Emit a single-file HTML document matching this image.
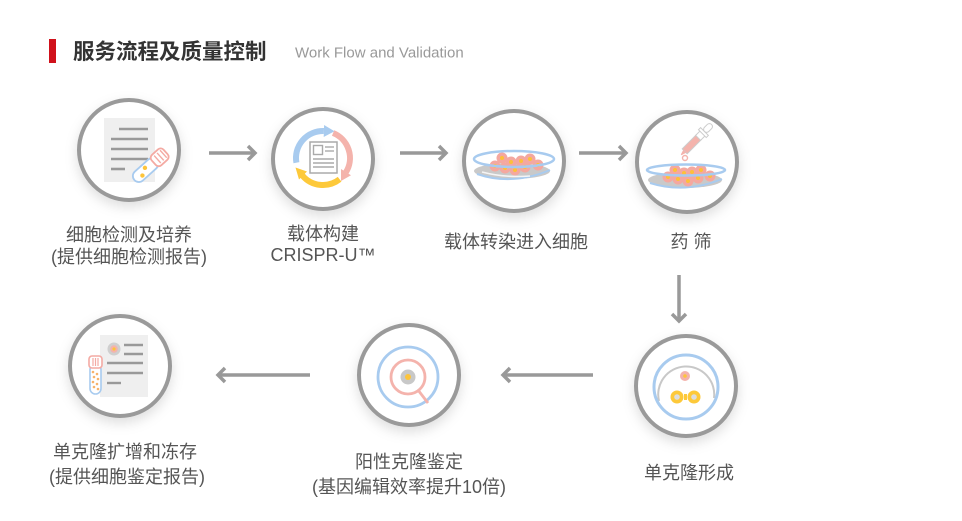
<!DOCTYPE html>
<html><head><meta charset="utf-8"><style>
html,body{margin:0;padding:0;background:#fff;}
svg{display:block;}
text{font-family:"Liberation Sans","Noto Sans CJK SC",sans-serif;}
.lb{font-size:18px;fill:#555;text-anchor:middle;dominant-baseline:central;}
</style></head><body>
<svg width="962" height="521" viewBox="0 0 962 521" xmlns="http://www.w3.org/2000/svg">
<defs>
<filter id="sh" x="-30%" y="-30%" width="160%" height="170%">
<feDropShadow dx="0" dy="5" stdDeviation="6" flood-color="#000" flood-opacity="0.13"/>
</filter>
</defs>
<!-- title -->
<rect x="49" y="39" width="7" height="24" fill="#d0111b"/>
<text x="73" y="52" font-size="21.5" font-weight="bold" fill="#333" dominant-baseline="central">服务流程及质量控制</text>
<text x="295" y="53" font-size="15" fill="#999" dominant-baseline="central">Work Flow and Validation</text>

<!-- circles -->
<g fill="#fff" stroke="#9a9a9a" stroke-width="4" filter="url(#sh)">
<circle cx="129" cy="150" r="50"/>
<circle cx="323" cy="159" r="50"/>
<circle cx="514" cy="161" r="50"/>
<circle cx="687" cy="162" r="50"/>
<circle cx="686" cy="386" r="50"/>
<circle cx="409" cy="375" r="50"/>
<circle cx="120" cy="366" r="50"/>
</g>

<!-- arrows -->
<g stroke="#999" stroke-width="3.5" fill="none" stroke-linecap="butt">
<line x1="209" y1="153" x2="255" y2="153"/><polyline points="248,146 255,153 248,160"/>
<line x1="400" y1="153" x2="446" y2="153"/><polyline points="439,146 446,153 439,160"/>
<line x1="579" y1="153" x2="626" y2="153"/><polyline points="619,146 626,153 619,160"/>
<line x1="679" y1="275" x2="679" y2="321"/><polyline points="672,314 679,321 686,314"/>
<line x1="503" y1="375" x2="593" y2="375"/><polyline points="510,368 503,375 510,382"/>
<line x1="218" y1="375" x2="310" y2="375"/><polyline points="225,368 218,375 225,382"/>
</g>

<!-- icon 1 -->
<rect x="104" y="118" width="51" height="64" fill="#efefef"/>
<g stroke="#999" stroke-width="2.6">
<line x1="119" y1="129" x2="148" y2="129"/>
<line x1="111" y1="139" x2="148" y2="139"/>
<line x1="111" y1="149" x2="148" y2="149"/>
<line x1="111" y1="159" x2="148" y2="159"/>
<line x1="111" y1="169" x2="125" y2="169"/>
</g>
<g transform="translate(150,166) rotate(-42)">
<rect x="-21" y="-6" width="30" height="12" rx="6" fill="#fff" stroke="#a8cbef" stroke-width="1.8"/>
<rect x="5" y="-7" width="16" height="14" rx="4" fill="#fff" stroke="#f4aaa3" stroke-width="1.8"/>
<g stroke="#f4aaa3" stroke-width="1.4"><line x1="10" y1="-5" x2="10" y2="5"/><line x1="14" y1="-5" x2="14" y2="5"/><line x1="18" y1="-5" x2="18" y2="5"/></g>
<circle cx="-5" cy="-2" r="2.2" fill="#fdc43a"/>
<circle cx="-12" cy="2" r="2.2" fill="#fdc43a"/>
</g>

<!-- icon 2 -->
<g fill="none" stroke-width="6">
<path d="M296.4 162.7 A27 27 0 0 1 323.9 131" stroke="#a8cbef"/>
<path d="M333.1 133 A27 27 0 0 1 345.9 172.3" stroke="#f4b3ac"/>
<path d="M339.6 179.3 A27 27 0 0 1 302.3 175.4" stroke="#fdc93a"/>
</g>
<polygon points="324.1,125 334.5,131.3 323.7,137" fill="#a8cbef"/>
<polygon points="351,175.3 341,181 341,169" fill="#f4b3ac"/>
<polygon points="299,179.5 295.5,167.5 307,171.5" fill="#fdc93a"/>
<rect x="310" y="142" width="27" height="31" fill="#fff" stroke="#aaa" stroke-width="1.5"/>
<g stroke="#aaa" stroke-width="1.4" fill="none">
<rect x="313.5" y="145.5" width="9" height="9"/>
<line x1="325" y1="147" x2="334" y2="147"/><line x1="325" y1="151" x2="334" y2="151"/>
<line x1="313" y1="159" x2="334" y2="159"/><line x1="313" y1="163" x2="334" y2="163"/><line x1="313" y1="167" x2="334" y2="167"/>
</g>

<!-- icon 3 -->
<ellipse cx="512" cy="171" rx="38" ry="8" fill="#c9c9c9"/>
<path d="M477 174 Q512 186 550 170" stroke="#a8cbef" stroke-width="2" fill="none"/>
<path d="M482 172 Q505 178 530 176" stroke="#fff" stroke-width="1.5" fill="none" opacity="0.8"/>
<g>
<g fill="#f4a8a0"><circle cx="502" cy="158" r="5.5"/><circle cx="521" cy="161" r="5.5"/><circle cx="530" cy="159" r="5.5"/><circle cx="511" cy="162" r="5.5"/><circle cx="538" cy="165" r="5.5"/><circle cx="495" cy="166" r="5.5"/><circle cx="505" cy="168" r="5.5"/><circle cx="515" cy="170" r="5.5"/><circle cx="525" cy="167" r="5.5"/></g>
<g fill="#fdc03a"><circle cx="502" cy="158" r="2"/><circle cx="521" cy="161" r="2"/><circle cx="530" cy="159" r="2"/><circle cx="511" cy="162" r="2"/><circle cx="538" cy="165" r="2"/><circle cx="495" cy="166" r="2"/><circle cx="505" cy="168" r="2"/><circle cx="515" cy="170" r="2"/><circle cx="525" cy="167" r="2"/></g>
</g>
<ellipse cx="514" cy="159" rx="40" ry="8" fill="none" stroke="#a8cbef" stroke-width="2.5"/>

<!-- icon 4 -->
<ellipse cx="685" cy="180" rx="37" ry="8" fill="#c9c9c9"/>
<path d="M650 183 Q685 194 722 179" stroke="#a8cbef" stroke-width="2" fill="none"/>
<g fill="#f4a8a0"><circle cx="675" cy="170" r="5.5"/><circle cx="692" cy="172" r="5.5"/><circle cx="701" cy="170" r="5.5"/><circle cx="684" cy="173" r="5.5"/><circle cx="710" cy="176" r="5.5"/><circle cx="668" cy="177" r="5.5"/><circle cx="678" cy="179" r="5.5"/><circle cx="688" cy="181" r="5.5"/><circle cx="698" cy="178" r="5.5"/></g>
<g fill="#fdc03a"><circle cx="675" cy="170" r="2"/><circle cx="692" cy="172" r="2"/><circle cx="701" cy="170" r="2"/><circle cx="684" cy="173" r="2"/><circle cx="710" cy="176" r="2"/><circle cx="668" cy="177" r="2"/><circle cx="678" cy="179" r="2"/><circle cx="688" cy="181" r="2"/><circle cx="698" cy="178" r="2"/></g>
<ellipse cx="686" cy="170" rx="39" ry="5.5" fill="none" stroke="#a8cbef" stroke-width="2.5"/>
<g transform="translate(696,140) rotate(45)">
<rect x="-3.5" y="-4" width="7" height="20" fill="#f4b3ac" stroke="#ccc" stroke-width="1"/>
<rect x="-3.5" y="-10" width="7" height="7" fill="#fff" stroke="#ccc" stroke-width="1"/>
<rect x="-5.5" y="-12" width="11" height="3" fill="#fff" stroke="#ccc" stroke-width="1"/>
<rect x="-3" y="-22" width="6" height="10" rx="3" fill="#fff" stroke="#ccc" stroke-width="1"/>
<polygon points="-2,16 2,16 0.5,21 -0.5,21" fill="#f4b3ac"/>
</g>
<circle cx="685" cy="158" r="2.5" fill="#fff" stroke="#f4b3ac" stroke-width="1.4"/>

<!-- icon 5 -->
<path d="M659 401 A28 28 0 1 1 714 398" fill="none" stroke="#c8c8c8" stroke-width="2"/>
<circle cx="686" cy="387" r="32" fill="none" stroke="#a8cbef" stroke-width="3"/>
<circle cx="685" cy="376" r="5" fill="#f4b3ac"/>
<circle cx="685" cy="376" r="1.8" fill="#fdc43a"/>
<rect x="684" y="394" width="3" height="6" fill="#fdc93a"/>
<circle cx="677" cy="397" r="6.5" fill="#fdc93a"/>
<circle cx="694" cy="397" r="6.5" fill="#fdc93a"/>
<circle cx="677" cy="397" r="2.8" fill="#ddd"/>
<circle cx="694" cy="397" r="2.8" fill="#ddd"/>

<!-- icon 6 -->
<circle cx="408" cy="377" r="30" fill="none" stroke="#a8cbef" stroke-width="2.8"/>
<line x1="418" y1="390" x2="428" y2="403" stroke="#f4b3ac" stroke-width="2.8"/>
<circle cx="408" cy="377" r="17" fill="none" stroke="#f4b3ac" stroke-width="2.8"/>
<circle cx="408" cy="377" r="7.5" fill="#c8c8c8"/>
<circle cx="408" cy="377" r="3" fill="#fdc43a"/>

<!-- icon 7 -->
<rect x="100" y="335" width="48" height="62" fill="#efefef"/>
<circle cx="114" cy="349" r="6.5" fill="#cfcfcf"/>
<circle cx="114" cy="349" r="3.8" fill="#f4b3ac"/>
<circle cx="114" cy="349" r="1.6" fill="#fdc43a"/>
<g stroke="#999" stroke-width="2.4">
<line x1="124" y1="345" x2="143" y2="345"/><line x1="124" y1="354" x2="143" y2="354"/>
<line x1="107" y1="363" x2="143" y2="363"/><line x1="107" y1="373" x2="143" y2="373"/>
<line x1="107" y1="383" x2="121" y2="383"/>
</g>
<rect x="90" y="364" width="11" height="30" rx="5.5" fill="#fff" stroke="#a8cbef" stroke-width="1.6"/>
<rect x="89" y="356" width="13" height="12" rx="3" fill="#fff" stroke="#f4aaa3" stroke-width="1.6"/>
<g stroke="#f4aaa3" stroke-width="1.2"><line x1="93" y1="358" x2="93" y2="366"/><line x1="95.5" y1="358" x2="95.5" y2="366"/><line x1="98" y1="358" x2="98" y2="366"/></g>
<g fill="#f7b26a"><circle cx="93" cy="372" r="1.3"/><circle cx="97" cy="374" r="1.3"/><circle cx="94" cy="377" r="1.3"/><circle cx="98" cy="379" r="1.3"/><circle cx="93" cy="382" r="1.3"/><circle cx="97" cy="384" r="1.3"/><circle cx="94" cy="387" r="1.3"/><circle cx="98" cy="389" r="1.3"/></g>

<!-- labels -->
<text class="lb" x="129" y="235">细胞检测及培养</text>
<text class="lb" x="129" y="257">(提供细胞检测报告)</text>
<text class="lb" x="323" y="234">载体构建</text>
<text class="lb" x="323" y="255" font-size="17">CRISPR-U™</text>
<text class="lb" x="516" y="242">载体转染进入细胞</text>
<text class="lb" x="691" y="242">药 筛</text>
<text class="lb" x="689" y="473">单克隆形成</text>
<text class="lb" x="409" y="462">阳性克隆鉴定</text>
<text class="lb" x="409" y="487">(基因编辑效率提升10倍)</text>
<text class="lb" x="125" y="452">单克隆扩增和冻存</text>
<text class="lb" x="127" y="477">(提供细胞鉴定报告)</text>
</svg>
</body></html>
